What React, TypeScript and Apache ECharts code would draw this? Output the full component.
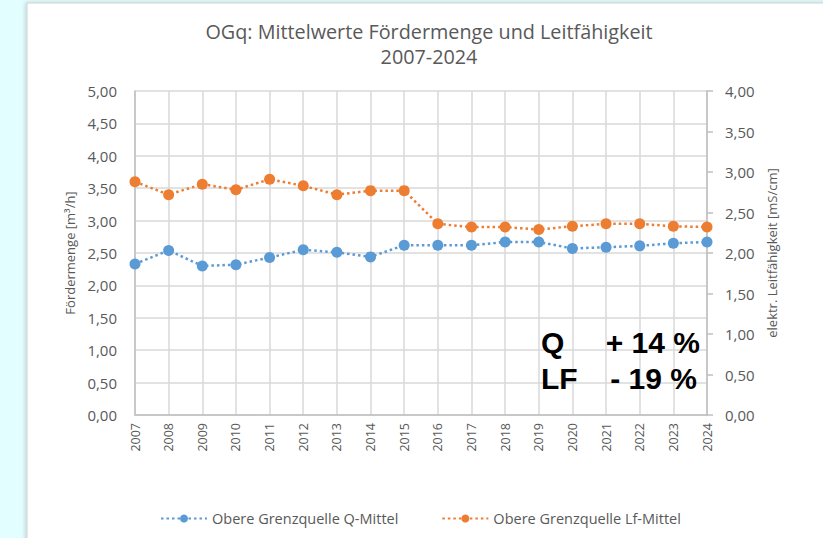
import React, { useEffect, useRef } from "react";
import * as echarts from "echarts";

const years = ["2007","2008","2009","2010","2011","2012","2013","2014","2015","2016","2017","2018","2019","2020","2021","2022","2023","2024"];
const qMittel = [2.33, 2.54, 2.30, 2.32, 2.43, 2.55, 2.51, 2.44, 2.62, 2.62, 2.62, 2.67, 2.67, 2.57, 2.59, 2.61, 2.65, 2.67];
const lfMittel = [2.88, 2.72, 2.85, 2.78, 2.91, 2.83, 2.72, 2.77, 2.77, 2.36, 2.32, 2.32, 2.29, 2.33, 2.36, 2.36, 2.33, 2.32];
const titleLines = ["OGq: Mittelwerte Fördermenge und Leitfähigkeit", "2007-2024"];
const seriesNames = ["Obere Grenzquelle Q-Mittel", "Obere Grenzquelle Lf-Mittel"];
const leftAxisName = "Fördermenge [m³/h]";
const rightAxisName = "elektr. Leitfähigkeit [mS/cm]";
const noteLabels = ["Q", "LF"];
const noteValues = ["+ 14 %", "- 19 %"];

const FONT = "'Open Sans', sans-serif";
const GRAY = "#595959";
const fmt = (v: number) => v.toFixed(2).replace(".", ",");

export default function App() {
  const ref = useRef<HTMLDivElement>(null);
  useEffect(() => {
    document.body.style.margin = "0";
    if (!ref.current) return;
    const chart = echarts.init(ref.current, null, { renderer: "svg" });
    chart.setOption({
      animation: false,
      backgroundColor: "#e2feff",
      textStyle: { fontFamily: FONT },
      title: {
        text: titleLines.join("\n"),
        left: 424,
        top: 14,
        textAlign: "center",
        textStyle: { fontFamily: FONT, fontSize: 19.8, fontWeight: "normal", color: GRAY, lineHeight: 25 },
      },
      graphic: [
        {
          type: "rect",
          z: -100,
          shape: { x: 27, y: 3, width: 900, height: 600 },
          style: { fill: "#ffffff", stroke: "#d0d0d0", lineWidth: 1, shadowBlur: 4, shadowColor: "rgba(0,0,0,0.18)", shadowOffsetX: -1 },
        },
        { type: "text", left: 541, top: 327, z: 100, style: { text: noteLabels[0], font: "bold 30px 'Liberation Sans', Arial, sans-serif", fill: "#000" } },
        { type: "text", left: 541, top: 363, z: 100, style: { text: noteLabels[1], font: "bold 30px 'Liberation Sans', Arial, sans-serif", fill: "#000" } },
        { type: "text", right: 123, top: 327, z: 100, style: { text: noteValues[0], font: "bold 30px 'Liberation Sans', Arial, sans-serif", fill: "#000" } },
        { type: "text", right: 126, top: 363, z: 100, style: { text: noteValues[1], font: "bold 30px 'Liberation Sans', Arial, sans-serif", fill: "#000" } },
      ],
      legend: {
        top: 506,
        left: 155,
        itemGap: 43,
        itemWidth: 46,
        itemHeight: 10,
        textStyle: { fontFamily: FONT, fontSize: 14.5, color: GRAY },
        data: seriesNames,
      },
      grid: { left: 135, right: 116, top: 91, bottom: 123, containLabel: false },
      xAxis: {
        type: "category",
        data: years,
        boundaryGap: false,
        axisLine: { lineStyle: { color: "#bfbfbf", width: 1.5 } },
        axisTick: { show: false },
        axisLabel: { rotate: 90, fontFamily: FONT, fontSize: 12.5, color: GRAY, margin: 8 },
        splitLine: { show: true, lineStyle: { color: "#d9d9d9", width: 1.5 } },
      },
      yAxis: [
        {
          type: "value",
          min: 0,
          max: 5,
          interval: 0.5,
          name: leftAxisName,
          nameLocation: "middle",
          nameRotate: 90,
          nameGap: 58,
          nameTextStyle: { fontFamily: FONT, fontSize: 13, color: GRAY },
          axisLine: { show: true, lineStyle: { color: "#bfbfbf", width: 1.5 } },
          axisTick: { show: false },
          axisLabel: { formatter: fmt, fontFamily: FONT, fontSize: 15, color: GRAY, margin: 18 },
          splitLine: { show: true, lineStyle: { color: "#d9d9d9", width: 1.5 } },
        },
        {
          type: "value",
          min: 0,
          max: 4,
          interval: 0.5,
          position: "right",
          name: rightAxisName,
          nameLocation: "middle",
          nameRotate: 90,
          nameGap: 56,
          nameTextStyle: { fontFamily: FONT, fontSize: 13, color: GRAY },
          axisLine: { show: true, lineStyle: { color: "#bfbfbf", width: 1.5 } },
          axisTick: { show: true, length: 6, lineStyle: { color: "#bfbfbf", width: 1.5 } },
          axisLabel: { formatter: fmt, fontFamily: FONT, fontSize: 15, color: GRAY, margin: 18 },
          splitLine: { show: false },
        },
      ],
      series: [
        {
          name: seriesNames[0],
          type: "line",
          yAxisIndex: 0,
          data: qMittel,
          symbol: "circle",
          symbolSize: 11,
          itemStyle: { color: "#5b9bd5" },
          lineStyle: { color: "#5b9bd5", width: 2.5, type: [2.5, 3] },
        },
        {
          name: seriesNames[1],
          type: "line",
          yAxisIndex: 1,
          data: lfMittel,
          symbol: "circle",
          symbolSize: 11,
          itemStyle: { color: "#ed7d31" },
          lineStyle: { color: "#ed7d31", width: 2.5, type: [2.5, 3] },
        },
      ],
    });
    return () => chart.dispose();
  }, []);
  return <div ref={ref} style={{ width: 823, height: 538 }} />;
}
